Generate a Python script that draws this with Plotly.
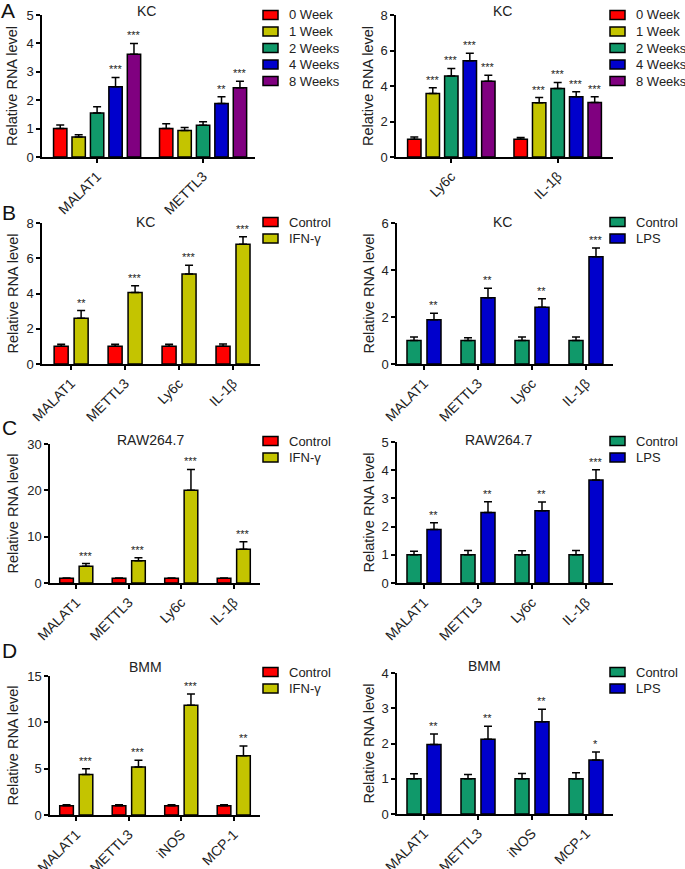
import plotly.graph_objects as go

# ---- data (mean, upper error, significance) ----
weeks = ["0 Week", "1 Week", "2 Weeks", "4 Weeks", "8 Weeks"]
week_colors = ["#FF0000", "#C4C400", "#10996A", "#0000CC", "#800080"]

a1_genes = ["MALAT1", "METTL3"]
a1_mean = [[1.0, 1.0], [0.70, 0.93], [1.55, 1.12], [2.47, 1.88], [3.62, 2.44]]
a1_err = [[0.13, 0.17], [0.08, 0.11], [0.22, 0.12], [0.33, 0.24], [0.38, 0.23]]
a1_stars = [["", ""], ["", ""], ["", ""], ["***", "**"], ["***", "***"]]

a2_genes = ["Ly6c", "IL-1β"]
a2_mean = [[1.0, 1.0], [3.58, 3.05], [4.56, 3.86], [5.42, 3.39], [4.27, 3.07]]
a2_err = [[0.12, 0.10], [0.32, 0.30], [0.43, 0.34], [0.42, 0.28], [0.34, 0.32]]
a2_stars = [["", ""], ["***", "***"], ["***", "***"], ["***", "***"], ["***", "***"]]

genes4 = ["MALAT1", "METTL3", "Ly6c", "IL-1β"]
genes_bmm = ["MALAT1", "METTL3", "iNOS", "MCP-1"]

b1_ctrl = [1.0, 1.0, 1.0, 1.0]
b1_ctrl_err = [0.12, 0.12, 0.12, 0.13]
b1_ifn = [2.6, 4.05, 5.1, 6.8]
b1_ifn_err = [0.43, 0.39, 0.50, 0.42]
b1_stars = ["**", "***", "***", "***"]

b2_ctrl = [1.0, 1.0, 1.0, 1.0]
b2_ctrl_err = [0.15, 0.12, 0.15, 0.15]
b2_lps = [1.88, 2.82, 2.42, 4.56]
b2_lps_err = [0.28, 0.40, 0.36, 0.38]
b2_stars = ["**", "**", "**", "***"]

c1_ctrl = [1.0, 1.0, 1.0, 1.0]
c1_ctrl_err = [0.10, 0.10, 0.10, 0.10]
c1_ifn = [3.6, 4.8, 20.0, 7.3]
c1_ifn_err = [0.6, 0.65, 4.5, 1.6]
c1_stars = ["***", "***", "***", "***"]

c2_ctrl = [1.0, 1.0, 1.0, 1.0]
c2_ctrl_err = [0.13, 0.15, 0.14, 0.15]
c2_lps = [1.9, 2.5, 2.56, 3.65]
c2_lps_err = [0.24, 0.38, 0.31, 0.37]
c2_stars = ["**", "**", "**", "***"]

d1_ctrl = [1.0, 1.0, 1.0, 1.0]
d1_ctrl_err = [0.10, 0.10, 0.10, 0.10]
d1_ifn = [4.37, 5.17, 11.85, 6.4]
d1_ifn_err = [0.62, 0.73, 1.2, 1.05]
d1_stars = ["***", "***", "***", "**"]

d2_ctrl = [1.0, 1.0, 1.0, 1.0]
d2_ctrl_err = [0.14, 0.12, 0.15, 0.17]
d2_lps = [1.97, 2.12, 2.62, 1.53]
d2_lps_err = [0.30, 0.37, 0.35, 0.23]
d2_stars = ["**", "**", "**", "*"]

W, H = 685, 869
FONT = "Arial, Liberation Sans, sans-serif"


def px(x):
    return x / W


def py(y):
    return 1 - y / H


# panel layout in pixels: axis left/right, plot top/bottom, title pos, legend pos
panels = [
    dict(genes=a1_genes, names=weeks, colors=week_colors, means=a1_mean, errs=a1_err, stars=a1_stars,
         ymax=5, dtick=1, xr=[-0.52, 1.49], box=(42, 255, 15, 157), title="KC", tpos=(146, 11),
         leg=(263, 15), ytitle=12),
    dict(genes=a2_genes, names=weeks, colors=week_colors, means=a2_mean, errs=a2_err, stars=a2_stars,
         ymax=8, dtick=2, xr=[-0.52, 1.52], box=(396, 613, 15, 157), title="KC", tpos=(502, 11),
         leg=(610, 15), ytitle=368),
    dict(genes=genes4, names=["Control", "IFN-γ"], colors=["#FF0000", "#C4C400"],
         means=[b1_ctrl, b1_ifn], errs=[b1_ctrl_err, b1_ifn_err], stars=[[""] * 4, b1_stars],
         ymax=8, dtick=2, xr=[-0.54, 3.5], box=(42, 260, 223, 364), title="KC", tpos=(145, 222),
         leg=(263, 222), ytitle=12),
    dict(genes=genes4, names=["Control", "LPS"], colors=["#10996A", "#0000CC"],
         means=[b2_ctrl, b2_lps], errs=[b2_ctrl_err, b2_lps_err], stars=[[""] * 4, b2_stars],
         ymax=6, dtick=2, xr=[-0.5, 3.5], box=(397, 613, 223, 364), title="KC", tpos=(502, 222),
         leg=(610, 222), ytitle=368),
    dict(genes=genes4, names=["Control", "IFN-γ"], colors=["#FF0000", "#C4C400"],
         means=[c1_ctrl, c1_ifn], errs=[c1_ctrl_err, c1_ifn_err], stars=[[""] * 4, c1_stars],
         ymax=30, dtick=10, xr=[-0.5, 3.5], box=(50, 260, 444, 583), title="RAW264.7", tpos=(150, 440),
         leg=(263, 441), ytitle=12),
    dict(genes=genes4, names=["Control", "LPS"], colors=["#10996A", "#0000CC"],
         means=[c2_ctrl, c2_lps], errs=[c2_ctrl_err, c2_lps_err], stars=[[""] * 4, c2_stars],
         ymax=5, dtick=1, xr=[-0.5, 3.5], box=(397, 613, 442, 583), title="RAW264.7", tpos=(498, 440),
         leg=(610, 441), ytitle=368),
    dict(genes=genes_bmm, names=["Control", "IFN-γ"], colors=["#FF0000", "#C4C400"],
         means=[d1_ctrl, d1_ifn], errs=[d1_ctrl_err, d1_ifn_err], stars=[[""] * 4, d1_stars],
         ymax=15, dtick=5, xr=[-0.5, 3.5], box=(50, 260, 676, 815), title="BMM", tpos=(145, 667),
         leg=(263, 672), ytitle=12),
    dict(genes=genes_bmm, names=["Control", "LPS"], colors=["#10996A", "#0000CC"],
         means=[d2_ctrl, d2_lps], errs=[d2_ctrl_err, d2_lps_err], stars=[[""] * 4, d2_stars],
         ymax=4, dtick=1, xr=[-0.5, 3.5], box=(397, 613, 673, 814), title="BMM", tpos=(484, 666),
         leg=(610, 672), ytitle=368),
]

fig = go.Figure()
annotations = []
shapes = []

for i, p in enumerate(panels):
    k = i + 1
    xa = "x" if k == 1 else f"x{k}"
    ya = "y" if k == 1 else f"y{k}"
    n = len(p["names"])
    if n == 5:
        slot, bw = 0.174, 0.126
    else:
        slot, bw = 0.37, 0.26
    for j, name in enumerate(p["names"]):
        center = (j - (n - 1) / 2) * slot
        fig.add_trace(go.Bar(
            x=p["genes"], y=p["means"][j], name=name, showlegend=False,
            width=bw, offset=center - bw / 2,
            marker=dict(color=p["colors"][j], line=dict(color="black", width=1.5)),
            error_y=dict(type="data", symmetric=False, array=p["errs"][j],
                         arrayminus=[0] * len(p["genes"]), color="black", thickness=1.5, width=4),
            xaxis=xa, yaxis=ya,
        ))
        for g, s in enumerate(p["stars"][j]):
            if s:
                annotations.append(dict(
                    x=g + center, y=p["means"][j][g] + p["errs"][j][g], xref=xa, yref=ya,
                    text=s, showarrow=False, yanchor="bottom", yshift=0,
                    font=dict(size=11, color="#222", family=FONT)))
        # hand-drawn legend entry
        lx, ly = p["leg"]
        ly = ly + 16.5 * j
        shapes.append(dict(type="rect", xref="paper", yref="paper",
                           x0=px(lx), x1=px(lx + 15), y0=py(ly - 4.5), y1=py(ly + 4.5),
                           fillcolor=p["colors"][j], line=dict(color="black", width=1.5)))
        annotations.append(dict(x=px(lx + 24), y=py(ly), xref="paper", yref="paper",
                                text=name, showarrow=False, xanchor="left", yanchor="middle",
                                font=dict(size=13, color="#222", family=FONT)))

    x0, x1, top, bot = p["box"]
    axis_common = dict(showline=True, linecolor="black", linewidth=1.5, ticks="outside",
                       ticklen=4, tickwidth=1.5, tickcolor="black", showgrid=False, zeroline=False,
                       automargin=False)
    fig.layout[f"xaxis{k}"] = dict(axis_common, domain=[px(x0), px(x1)], anchor=ya,
                                   type="category", range=p["xr"], tickangle=-45,
                                   tickfont=dict(size=14, color="#222", family=FONT))
    fig.layout[f"yaxis{k}"] = dict(axis_common, domain=[py(bot), py(top)], anchor=xa,
                                   range=[0, p["ymax"]], dtick=p["dtick"],
                                   tickfont=dict(size=13, color="#222", family=FONT))
    annotations.append(dict(x=px(p["tpos"][0]), y=py(p["tpos"][1]), xref="paper", yref="paper",
                            text=p["title"], showarrow=False, xanchor="center", yanchor="middle",
                            font=dict(size=14, color="#222", family=FONT)))
    annotations.append(dict(x=px(p["ytitle"]), y=py((top + bot) / 2), xref="paper", yref="paper",
                            text="Relative RNA level", textangle=-90, showarrow=False,
                            xanchor="center", yanchor="middle",
                            font=dict(size=14.5, color="#222", family=FONT)))

# panel letters
for letter, (lx, ly) in zip(["A", "B", "C", "D"], [(8, 10), (9, 212), (9, 427), (9, 650)]):
    annotations.append(dict(x=px(lx), y=py(ly), xref="paper", yref="paper", text=letter,
                            showarrow=False, xanchor="center", yanchor="middle",
                            font=dict(size=21, color="#111", family=FONT)))

fig.update_layout(
    template="none",
    width=W, height=H, autosize=False,
    margin=dict(l=0, r=0, t=0, b=0),
    paper_bgcolor="white", plot_bgcolor="white",
    barmode="overlay",
    annotations=annotations, shapes=shapes,
    font=dict(family=FONT),
)

# the page's default 8px body margin would push the figure off the window
fig.write_html("out.html", config={"displayModeBar": False},
               post_script="document.body.style.margin='0px';")
